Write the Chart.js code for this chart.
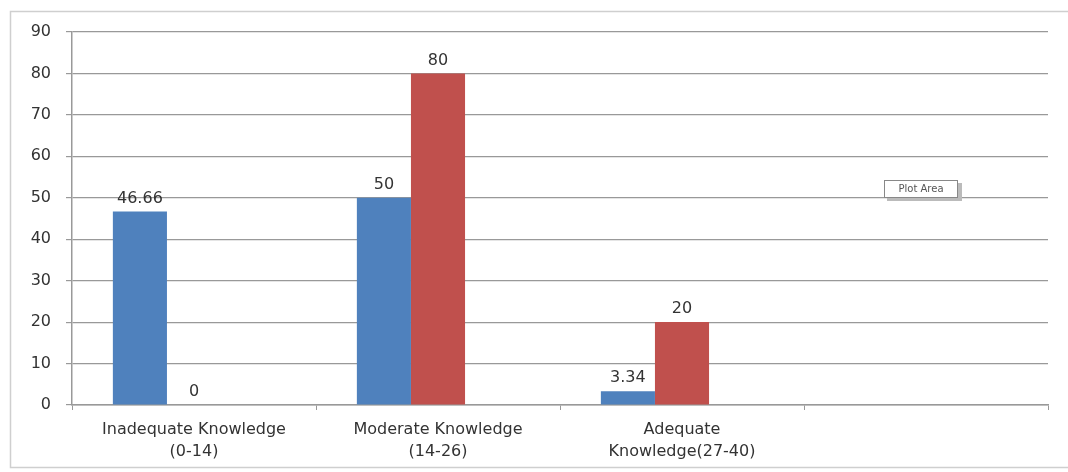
<!DOCTYPE html>
<html>
<head>
<meta charset="utf-8">
<script src="https://cdn.jsdelivr.net/npm/chart.js@4.4.1/dist/chart.umd.min.js"></script>
<style>
  html, body { margin: 0; padding: 0; background: #fff; overflow: hidden; }
  #wrap { width: 1068px; height: 472px; position: relative; }
</style>
</head>
<body>
<div id="wrap"><canvas id="knowChart" width="1068" height="472"></canvas></div>
<script>
const categories = [
  ["Inadequate Knowledge", "(0-14)"],
  ["Moderate Knowledge", "(14-26)"],
  ["Adequate", "Knowledge(27-40)"],
  ""
];
const seriesA = [46.66, 50, 3.34, null];
const seriesB = [0, 80, 20, null];
const seriesC = [null, null, null, null];
const yTicks = [0, 10, 20, 30, 40, 50, 60, 70, 80, 90];

const FONT = "'DejaVu Sans', 'Open Sans', sans-serif";

// frame, data labels and the leftover "Plot Area" tip
const decorPlugin = {
  id: "decor",
  beforeDraw(chart) {
    const ctx = chart.ctx;
    ctx.save();
    ctx.strokeStyle = "#cfcfcf";
    ctx.lineWidth = 1.5;
    ctx.beginPath();
    ctx.moveTo(1068, 11.5);
    ctx.lineTo(10.5, 11.5);
    ctx.lineTo(10.5, 467.5);
    ctx.lineTo(1068, 467.5);
    ctx.stroke();
    ctx.restore();
  },
  afterDatasetsDraw(chart) {
    const ctx = chart.ctx;
    ctx.save();
    ctx.font = "16px " + FONT;
    ctx.fillStyle = "#333";
    ctx.textAlign = "center";
    ctx.textBaseline = "bottom";
    chart.data.datasets.forEach((ds, i) => {
      const meta = chart.getDatasetMeta(i);
      meta.data.forEach((bar, j) => {
        const v = ds.data[j];
        if (v === null || v === undefined) return;
        ctx.fillText(String(v), bar.x, bar.y - 5);
      });
    });
    ctx.restore();
  },
  afterDraw(chart) {
    const ctx = chart.ctx;
    ctx.save();
    ctx.fillStyle = "#bbb";
    ctx.fillRect(887, 183, 75, 18);
    ctx.fillStyle = "#fff";
    ctx.fillRect(884, 180, 74, 18);
    ctx.strokeStyle = "#888";
    ctx.lineWidth = 1;
    ctx.strokeRect(884.5, 180.5, 73, 17);
    ctx.font = "10px " + FONT;
    ctx.fillStyle = "#555";
    ctx.textAlign = "center";
    ctx.textBaseline = "middle";
    ctx.fillText("Plot Area", 921, 189);
    ctx.restore();
  }
};

new Chart(document.getElementById("knowChart"), {
  type: "bar",
  data: {
    labels: categories,
    datasets: [
      { label: "A", data: seriesA, backgroundColor: "#4f81bd" },
      { label: "B", data: seriesB, backgroundColor: "#c0504d" },
      { label: "C", data: seriesC, backgroundColor: "#9bbb59" }
    ]
  },
  options: {
    responsive: false,
    animation: false,
    events: [],
    layout: { padding: { left: 0, right: 20, top: 32, bottom: 0 } },
    datasets: { bar: { categoryPercentage: 0.665, barPercentage: 1.0 } },
    plugins: { legend: { display: false }, tooltip: { enabled: false } },
    scales: {
      x: {
        grid: { offset: true, drawOnChartArea: false, drawTicks: true, tickLength: 5, color: "#999" },
        border: { color: "#999", width: 1.5 },
        ticks: { color: "#333", font: { family: FONT, size: 16, lineHeight: 1.35 }, padding: 9, maxRotation: 0, autoSkip: false },
        afterFit(scale) { scale.height = 67; }
      },
      y: {
        min: 0,
        max: 90,
        afterBuildTicks(scale) { scale.ticks = yTicks.map((v) => ({ value: v })); },
        grid: { color: "#999", lineWidth: 1.2, tickLength: 6 },
        border: { color: "#999", width: 1.5 },
        ticks: { color: "#333", font: { family: FONT, size: 16 }, padding: 15 },
        afterFit(scale) { scale.width = 72; }
      }
    }
  },
  plugins: [decorPlugin]
});
</script>
</body>
</html>
